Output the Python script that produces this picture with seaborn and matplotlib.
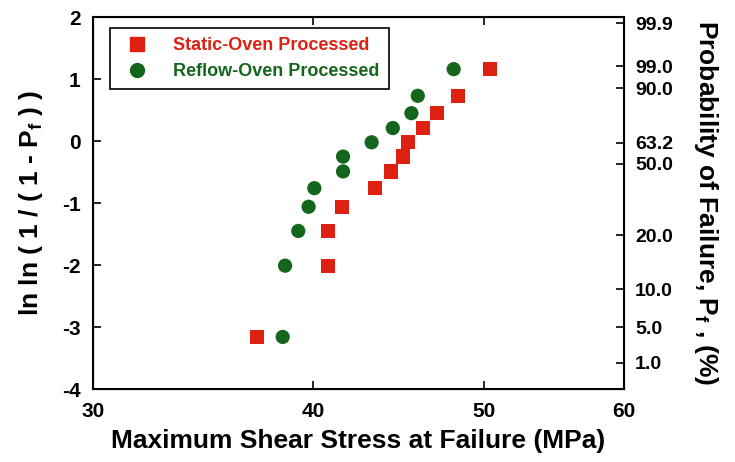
import pandas as pd
import matplotlib
matplotlib.use("Agg")
import matplotlib.pyplot as plt
import matplotlib.ticker as mticker
from matplotlib.lines import Line2D
import seaborn as sns

# data
static_stress = [37.15, 40.76, 40.76, 41.52, 43.37, 44.27, 44.98, 45.24, 46.15, 46.99, 48.29, 50.38]
reflow_stress = [38.43, 38.55, 39.22, 39.75, 40.05, 41.58, 41.58, 43.16, 44.37, 45.46, 45.84, 48.04]
lnln_values = [-3.16, -2.01, -1.45, -1.06, -0.76, -0.49, -0.25, -0.02, 0.21, 0.45, 0.73, 1.16]

x_ticks = [30, 40, 50, 60]
y_ticks = [2, 1, 0, -1, -2, -3, -4]
prob_positions = [1.90, 1.21, 0.855, -0.03, -0.37, -1.52, -2.39, -3.0, -3.58]
prob_labels = ["99.9", "99.0", "90.0", "63.2", "50.0", "20.0", "10.0", "5.0", "1.0"]

labels = ["Static-Oven Processed", "Reflow-Oven Processed"]
colors = {"Static-Oven Processed": "#dd2010", "Reflow-Oven Processed": "#14661c"}
markers = {"Static-Oven Processed": "s", "Reflow-Oven Processed": "o"}

df = pd.DataFrame({
    "stress": static_stress + reflow_stress,
    "lnln": lnln_values + lnln_values,
    "process": [labels[0]] * len(static_stress) + [labels[1]] * len(reflow_stress),
})

sns.set_style("ticks")
plt.rcParams["font.family"] = ["Liberation Sans", "DejaVu Sans"]
plt.rcParams["font.weight"] = "bold"
plt.rcParams["axes.unicode_minus"] = False
# plain black text and axes like the original
for key in ["text.color", "axes.labelcolor", "xtick.color", "ytick.color", "axes.edgecolor"]:
    plt.rcParams[key] = "black"

fig = plt.figure(figsize=(7.35, 4.62), dpi=100)
ax = fig.add_axes([0.1265, 0.158, 0.7225, 0.805])

sns.scatterplot(data=df, x="stress", y="lnln", hue="process", style="process",
                palette=colors, markers=markers, s=105, edgecolor="none",
                legend=False, ax=ax)

ax.set_xscale("log")
ax.set_xlim(30, 60)
ax.set_ylim(-4, 2)
ax.xaxis.set_minor_locator(mticker.NullLocator())
ax.set_xticks(x_ticks)
ax.set_xticklabels([str(v) for v in x_ticks], fontsize=15, fontweight="bold")
ax.set_yticks(y_ticks)
ax.set_yticklabels([str(v) for v in y_ticks], fontsize=15, fontweight="bold")
ax.tick_params(direction="in", length=6, width=1.2, top=True, right=False, pad=9)
ax.tick_params(axis="x", pad=9)

for sp in ax.spines.values():
    sp.set_linewidth(1.5)

ax.set_xlabel("Maximum Shear Stress at Failure (MPa)", fontsize=19, fontweight="bold", labelpad=6)
ax.set_ylabel(r"ln ln ( 1 / ( 1 - P$_{\mathregular{f}}$ ) )", fontsize=19, fontweight="bold", labelpad=12)

ax2 = ax.twinx()
ax2.set_ylim(-4, 2)
ax2.set_yticks(prob_positions)
ax2.set_yticklabels(prob_labels, fontsize=14, fontweight="bold")
ax2.tick_params(direction="in", length=6, width=1.2, pad=8)
ax2.set_ylabel(r"Probability of Failure, P$_{\mathregular{f}}$ , (%)", fontsize=19,
               fontweight="bold", rotation=270, labelpad=34)

handles = [Line2D([], [], linestyle="none", marker=markers[l], color=colors[l], markersize=10)
           for l in labels]
leg = ax.legend(handles, labels, loc="upper left", bbox_to_anchor=(0.032, 0.97),
                borderaxespad=0, frameon=True, fancybox=False, edgecolor="black",
                framealpha=1, prop={"size": 13, "weight": "bold"}, handletextpad=1.0,
                borderpad=0.5, labelspacing=0.5)
leg.get_frame().set_linewidth(1.2)
for txt, l in zip(leg.get_texts(), labels):
    txt.set_color(colors[l])

fig.savefig("out.png", dpi=100)
